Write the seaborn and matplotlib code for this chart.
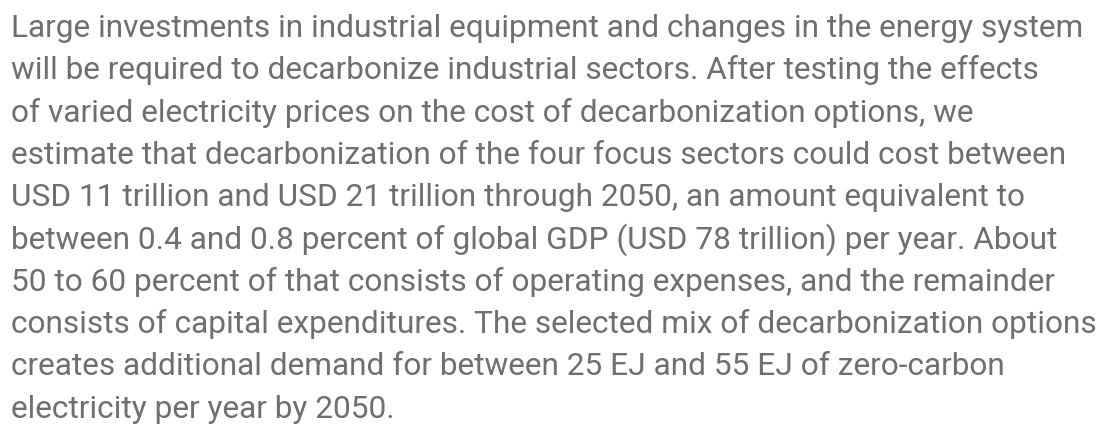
"""Text panel: decarbonization cost summary paragraph."""

import matplotlib

matplotlib.use("Agg")
import matplotlib.pyplot as plt
import seaborn as sns

# paragraph lines as they wrap in the reference
lines = [
    "Large investments in industrial equipment and changes in the energy system",
    "will be required to decarbonize industrial sectors. After testing the effects",
    "of varied electricity prices on the cost of decarbonization options, we",
    "estimate that decarbonization of the four focus sectors could cost between",
    "USD 11 trillion and USD 21 trillion through 2050, an amount equivalent to",
    "between 0.4 and 0.8 percent of global GDP (USD 78 trillion) per year. About",
    "50 to 60 percent of that consists of operating expenses, and the remainder",
    "consists of capital expenditures. The selected mix of decarbonization options",
    "creates additional demand for between 25 EJ and 55 EJ of zero-carbon",
    "electricity per year by 2050.",
]

TEXT_COLOR = "#6e6e73"
W, H, DPI = 1102, 428, 100
LEFT_PX = 11
FIRST_BASELINE_PX = 37
LINE_PITCH_PX = 42.3
TARGET_WIDTH_PX = 1072  # width of the first line in the reference

sns.set_theme(style="white")
plt.rcParams["font.family"] = ["Roboto", "DejaVu Sans"]

fig = plt.figure(figsize=(W / DPI, H / DPI), dpi=DPI)
fig.patch.set_facecolor("white")

# fit the font size so the first line spans the same width as the reference
probe = fig.text(0, 0, lines[0], fontsize=24)
renderer = fig.canvas.get_renderer()
w = probe.get_window_extent(renderer).width
probe.remove()
size = 24 * TARGET_WIDTH_PX / w

for i, line in enumerate(lines):
    y = H - (FIRST_BASELINE_PX + i * LINE_PITCH_PX)
    fig.text(
        LEFT_PX / W,
        y / H,
        line,
        fontsize=size,
        color=TEXT_COLOR,
        ha="left",
        va="baseline",
    )

fig.savefig("out.png", dpi=DPI, facecolor="white")
